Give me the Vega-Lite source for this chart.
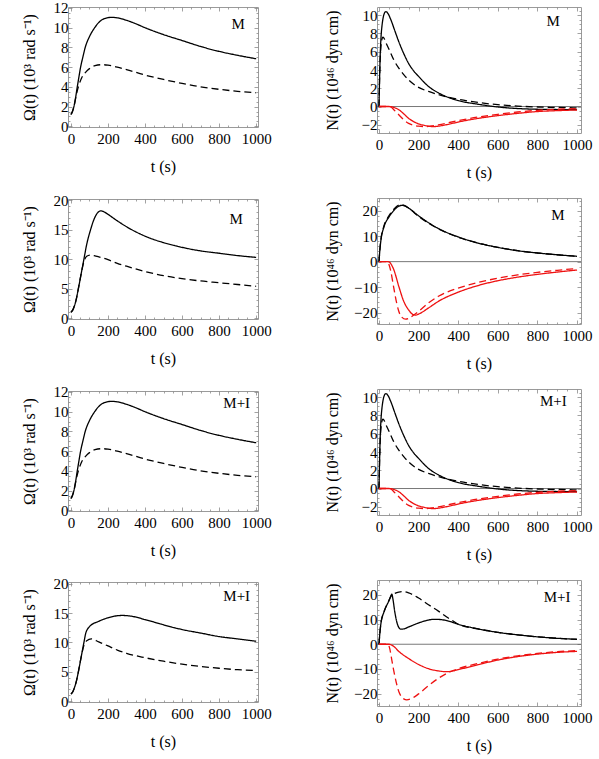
{
"$schema": "https://vega.github.io/schema/vega-lite/v6.json",
"background": "white",
"padding": {"left": 20, "top": 0, "right": 5, "bottom": 5},
"config": {
  "view": {"stroke": "#9a9a9a", "strokeWidth": 1},
  "axis": {"domain": false, "grid": false, "tickColor": "#8a8a8a", "tickWidth": 0.8, "labelFont": "Liberation Serif", "labelFontSize": 15, "labelColor": "#000", "titleFont": "Liberation Serif", "titleFontSize": 16, "titleFontWeight": "normal", "titleColor": "#000", "labelFlush": false, "labelOverlap": false},
  "text": {"font": "Liberation Serif"}
},
"datasets": {
  "L1": [
    {"t":0,"v":1.2,"c":"k","d":"s"},{"t":8,"v":1.5,"c":"k","d":"s"},{"t":16,"v":2.0,"c":"k","d":"s"},{"t":25,"v":2.9,"c":"k","d":"s"},{"t":34,"v":4.0,"c":"k","d":"s"},{"t":43,"v":5.0,"c":"k","d":"s"},{"t":52,"v":6.0,"c":"k","d":"s"},{"t":64,"v":7.0,"c":"k","d":"s"},{"t":77,"v":8.0,"c":"k","d":"s"},{"t":100,"v":9.1,"c":"k","d":"s"},{"t":128,"v":10.0,"c":"k","d":"s"},{"t":160,"v":10.7,"c":"k","d":"s"},{"t":190,"v":10.98,"c":"k","d":"s"},{"t":218,"v":11.05,"c":"k","d":"s"},{"t":250,"v":11.0,"c":"k","d":"s"},{"t":300,"v":10.75,"c":"k","d":"s"},{"t":350,"v":10.4,"c":"k","d":"s"},{"t":400,"v":10.0,"c":"k","d":"s"},{"t":500,"v":9.3,"c":"k","d":"s"},{"t":600,"v":8.7,"c":"k","d":"s"},{"t":700,"v":8.1,"c":"k","d":"s"},{"t":800,"v":7.6,"c":"k","d":"s"},{"t":900,"v":7.2,"c":"k","d":"s"},{"t":1000,"v":6.85,"c":"k","d":"s"},
    {"t":0,"v":1.2,"c":"k","d":"d"},{"t":8,"v":1.5,"c":"k","d":"d"},{"t":16,"v":2.0,"c":"k","d":"d"},{"t":25,"v":2.8,"c":"k","d":"d"},{"t":34,"v":3.6,"c":"k","d":"d"},{"t":45,"v":4.3,"c":"k","d":"d"},{"t":60,"v":5.0,"c":"k","d":"d"},{"t":80,"v":5.5,"c":"k","d":"d"},{"t":100,"v":5.85,"c":"k","d":"d"},{"t":130,"v":6.15,"c":"k","d":"d"},{"t":170,"v":6.25,"c":"k","d":"d"},{"t":200,"v":6.2,"c":"k","d":"d"},{"t":250,"v":6.0,"c":"k","d":"d"},{"t":300,"v":5.75,"c":"k","d":"d"},{"t":400,"v":5.2,"c":"k","d":"d"},{"t":500,"v":4.75,"c":"k","d":"d"},{"t":600,"v":4.35,"c":"k","d":"d"},{"t":700,"v":4.0,"c":"k","d":"d"},{"t":800,"v":3.75,"c":"k","d":"d"},{"t":900,"v":3.55,"c":"k","d":"d"},{"t":1000,"v":3.4,"c":"k","d":"d"}
  ],
  "L2": [
    {"t":0,"v":1.0,"c":"k","d":"s"},{"t":10,"v":1.4,"c":"k","d":"s"},{"t":20,"v":2.2,"c":"k","d":"s"},{"t":30,"v":3.4,"c":"k","d":"s"},{"t":40,"v":5.0,"c":"k","d":"s"},{"t":55,"v":7.5,"c":"k","d":"s"},{"t":70,"v":10.0,"c":"k","d":"s"},{"t":85,"v":12.5,"c":"k","d":"s"},{"t":106,"v":15.0,"c":"k","d":"s"},{"t":125,"v":16.8,"c":"k","d":"s"},{"t":145,"v":17.9,"c":"k","d":"s"},{"t":162,"v":18.2,"c":"k","d":"s"},{"t":180,"v":18.0,"c":"k","d":"s"},{"t":200,"v":17.6,"c":"k","d":"s"},{"t":250,"v":16.5,"c":"k","d":"s"},{"t":300,"v":15.5,"c":"k","d":"s"},{"t":400,"v":13.9,"c":"k","d":"s"},{"t":500,"v":12.8,"c":"k","d":"s"},{"t":600,"v":12.0,"c":"k","d":"s"},{"t":700,"v":11.4,"c":"k","d":"s"},{"t":800,"v":11.0,"c":"k","d":"s"},{"t":900,"v":10.6,"c":"k","d":"s"},{"t":1000,"v":10.3,"c":"k","d":"s"},
    {"t":0,"v":1.0,"c":"k","d":"d"},{"t":10,"v":1.4,"c":"k","d":"d"},{"t":20,"v":2.2,"c":"k","d":"d"},{"t":30,"v":3.4,"c":"k","d":"d"},{"t":40,"v":5.0,"c":"k","d":"d"},{"t":55,"v":7.5,"c":"k","d":"d"},{"t":70,"v":9.6,"c":"k","d":"d"},{"t":85,"v":10.5,"c":"k","d":"d"},{"t":105,"v":10.7,"c":"k","d":"d"},{"t":125,"v":10.6,"c":"k","d":"d"},{"t":150,"v":10.4,"c":"k","d":"d"},{"t":200,"v":9.9,"c":"k","d":"d"},{"t":250,"v":9.3,"c":"k","d":"d"},{"t":300,"v":8.8,"c":"k","d":"d"},{"t":400,"v":7.9,"c":"k","d":"d"},{"t":500,"v":7.2,"c":"k","d":"d"},{"t":600,"v":6.7,"c":"k","d":"d"},{"t":700,"v":6.3,"c":"k","d":"d"},{"t":800,"v":6.0,"c":"k","d":"d"},{"t":900,"v":5.7,"c":"k","d":"d"},{"t":1000,"v":5.4,"c":"k","d":"d"}
  ],
  "L4": [
    {"t":0,"v":1.2,"c":"k","d":"s"},{"t":10,"v":1.6,"c":"k","d":"s"},{"t":20,"v":2.4,"c":"k","d":"s"},{"t":30,"v":3.5,"c":"k","d":"s"},{"t":40,"v":5.0,"c":"k","d":"s"},{"t":55,"v":7.5,"c":"k","d":"s"},{"t":70,"v":10.0,"c":"k","d":"s"},{"t":80,"v":11.6,"c":"k","d":"s"},{"t":90,"v":12.3,"c":"k","d":"s"},{"t":100,"v":12.7,"c":"k","d":"s"},{"t":150,"v":13.6,"c":"k","d":"s"},{"t":200,"v":14.2,"c":"k","d":"s"},{"t":250,"v":14.55,"c":"k","d":"s"},{"t":280,"v":14.6,"c":"k","d":"s"},{"t":320,"v":14.5,"c":"k","d":"s"},{"t":400,"v":13.9,"c":"k","d":"s"},{"t":500,"v":13.0,"c":"k","d":"s"},{"t":600,"v":12.2,"c":"k","d":"s"},{"t":700,"v":11.6,"c":"k","d":"s"},{"t":800,"v":11.0,"c":"k","d":"s"},{"t":900,"v":10.6,"c":"k","d":"s"},{"t":1000,"v":10.2,"c":"k","d":"s"},
    {"t":0,"v":1.2,"c":"k","d":"d"},{"t":10,"v":1.6,"c":"k","d":"d"},{"t":20,"v":2.4,"c":"k","d":"d"},{"t":30,"v":3.5,"c":"k","d":"d"},{"t":40,"v":5.0,"c":"k","d":"d"},{"t":55,"v":7.5,"c":"k","d":"d"},{"t":70,"v":9.5,"c":"k","d":"d"},{"t":85,"v":10.3,"c":"k","d":"d"},{"t":110,"v":10.6,"c":"k","d":"d"},{"t":150,"v":10.1,"c":"k","d":"d"},{"t":200,"v":9.4,"c":"k","d":"d"},{"t":250,"v":8.7,"c":"k","d":"d"},{"t":300,"v":8.15,"c":"k","d":"d"},{"t":400,"v":7.4,"c":"k","d":"d"},{"t":500,"v":6.8,"c":"k","d":"d"},{"t":600,"v":6.3,"c":"k","d":"d"},{"t":700,"v":5.9,"c":"k","d":"d"},{"t":800,"v":5.6,"c":"k","d":"d"},{"t":900,"v":5.35,"c":"k","d":"d"},{"t":1000,"v":5.2,"c":"k","d":"d"}
  ],
  "R1": [
    {"t":0,"v":0,"c":"k","d":"s"},{"t":3,"v":3,"c":"k","d":"s"},{"t":6,"v":5.5,"c":"k","d":"s"},{"t":10,"v":7.5,"c":"k","d":"s"},{"t":15,"v":8.8,"c":"k","d":"s"},{"t":20,"v":9.6,"c":"k","d":"s"},{"t":27,"v":10.2,"c":"k","d":"s"},{"t":35,"v":10.4,"c":"k","d":"s"},{"t":45,"v":10.2,"c":"k","d":"s"},{"t":60,"v":9.5,"c":"k","d":"s"},{"t":80,"v":8.3,"c":"k","d":"s"},{"t":100,"v":7.1,"c":"k","d":"s"},{"t":125,"v":5.8,"c":"k","d":"s"},{"t":150,"v":4.7,"c":"k","d":"s"},{"t":175,"v":3.9,"c":"k","d":"s"},{"t":200,"v":3.3,"c":"k","d":"s"},{"t":250,"v":2.2,"c":"k","d":"s"},{"t":300,"v":1.5,"c":"k","d":"s"},{"t":350,"v":1.0,"c":"k","d":"s"},{"t":400,"v":0.65,"c":"k","d":"s"},{"t":500,"v":0.25,"c":"k","d":"s"},{"t":600,"v":-0.05,"c":"k","d":"s"},{"t":700,"v":-0.22,"c":"k","d":"s"},{"t":800,"v":-0.3,"c":"k","d":"s"},{"t":900,"v":-0.33,"c":"k","d":"s"},{"t":1000,"v":-0.35,"c":"k","d":"s"},
    {"t":0,"v":0,"c":"k","d":"d"},{"t":3,"v":3,"c":"k","d":"d"},{"t":6,"v":5.2,"c":"k","d":"d"},{"t":10,"v":6.6,"c":"k","d":"d"},{"t":15,"v":7.4,"c":"k","d":"d"},{"t":20,"v":7.6,"c":"k","d":"d"},{"t":25,"v":7.5,"c":"k","d":"d"},{"t":35,"v":7.0,"c":"k","d":"d"},{"t":50,"v":6.3,"c":"k","d":"d"},{"t":75,"v":5.1,"c":"k","d":"d"},{"t":100,"v":4.2,"c":"k","d":"d"},{"t":125,"v":3.5,"c":"k","d":"d"},{"t":150,"v":2.9,"c":"k","d":"d"},{"t":200,"v":2.1,"c":"k","d":"d"},{"t":250,"v":1.65,"c":"k","d":"d"},{"t":300,"v":1.3,"c":"k","d":"d"},{"t":400,"v":0.8,"c":"k","d":"d"},{"t":500,"v":0.45,"c":"k","d":"d"},{"t":600,"v":0.2,"c":"k","d":"d"},{"t":700,"v":0.05,"c":"k","d":"d"},{"t":800,"v":-0.05,"c":"k","d":"d"},{"t":900,"v":-0.1,"c":"k","d":"d"},{"t":1000,"v":-0.15,"c":"k","d":"d"},
    {"t":0,"v":0,"c":"r","d":"s"},{"t":50,"v":0,"c":"r","d":"s"},{"t":60,"v":-0.02,"c":"r","d":"s"},{"t":75,"v":-0.1,"c":"r","d":"s"},{"t":100,"v":-0.35,"c":"r","d":"s"},{"t":125,"v":-0.8,"c":"r","d":"s"},{"t":150,"v":-1.3,"c":"r","d":"s"},{"t":175,"v":-1.65,"c":"r","d":"s"},{"t":200,"v":-1.9,"c":"r","d":"s"},{"t":225,"v":-2.05,"c":"r","d":"s"},{"t":250,"v":-2.15,"c":"r","d":"s"},{"t":275,"v":-2.2,"c":"r","d":"s"},{"t":300,"v":-2.15,"c":"r","d":"s"},{"t":350,"v":-1.95,"c":"r","d":"s"},{"t":400,"v":-1.7,"c":"r","d":"s"},{"t":500,"v":-1.3,"c":"r","d":"s"},{"t":600,"v":-1.0,"c":"r","d":"s"},{"t":700,"v":-0.75,"c":"r","d":"s"},{"t":800,"v":-0.55,"c":"r","d":"s"},{"t":900,"v":-0.45,"c":"r","d":"s"},{"t":1000,"v":-0.38,"c":"r","d":"s"},
    {"t":0,"v":0,"c":"r","d":"d"},{"t":50,"v":0,"c":"r","d":"d"},{"t":60,"v":-0.05,"c":"r","d":"d"},{"t":75,"v":-0.35,"c":"r","d":"d"},{"t":100,"v":-0.9,"c":"r","d":"d"},{"t":125,"v":-1.45,"c":"r","d":"d"},{"t":150,"v":-1.85,"c":"r","d":"d"},{"t":175,"v":-2.05,"c":"r","d":"d"},{"t":200,"v":-2.15,"c":"r","d":"d"},{"t":230,"v":-2.2,"c":"r","d":"d"},{"t":260,"v":-2.15,"c":"r","d":"d"},{"t":300,"v":-2.0,"c":"r","d":"d"},{"t":400,"v":-1.55,"c":"r","d":"d"},{"t":500,"v":-1.15,"c":"r","d":"d"},{"t":600,"v":-0.85,"c":"r","d":"d"},{"t":700,"v":-0.6,"c":"r","d":"d"},{"t":800,"v":-0.42,"c":"r","d":"d"},{"t":900,"v":-0.3,"c":"r","d":"d"},{"t":1000,"v":-0.22,"c":"r","d":"d"}
  ],
  "R2": [
    {"t":0,"v":0,"c":"k","d":"s"},{"t":5,"v":5,"c":"k","d":"s"},{"t":10,"v":8.5,"c":"k","d":"s"},{"t":25,"v":13.6,"c":"k","d":"s"},{"t":50,"v":17.5,"c":"k","d":"s"},{"t":75,"v":20.1,"c":"k","d":"s"},{"t":100,"v":21.8,"c":"k","d":"s"},{"t":115,"v":22.1,"c":"k","d":"s"},{"t":130,"v":21.9,"c":"k","d":"s"},{"t":150,"v":21.0,"c":"k","d":"s"},{"t":200,"v":18.0,"c":"k","d":"s"},{"t":250,"v":15.3,"c":"k","d":"s"},{"t":300,"v":13.0,"c":"k","d":"s"},{"t":400,"v":9.7,"c":"k","d":"s"},{"t":500,"v":7.3,"c":"k","d":"s"},{"t":600,"v":5.6,"c":"k","d":"s"},{"t":700,"v":4.3,"c":"k","d":"s"},{"t":800,"v":3.4,"c":"k","d":"s"},{"t":900,"v":2.7,"c":"k","d":"s"},{"t":1000,"v":2.1,"c":"k","d":"s"},
    {"t":0,"v":0,"c":"k","d":"d"},{"t":5,"v":5.2,"c":"k","d":"d"},{"t":10,"v":8.8,"c":"k","d":"d"},{"t":25,"v":14.0,"c":"k","d":"d"},{"t":50,"v":18.0,"c":"k","d":"d"},{"t":75,"v":20.6,"c":"k","d":"d"},{"t":100,"v":22.2,"c":"k","d":"d"},{"t":110,"v":22.4,"c":"k","d":"d"},{"t":130,"v":22.0,"c":"k","d":"d"},{"t":150,"v":21.0,"c":"k","d":"d"},{"t":200,"v":17.8,"c":"k","d":"d"},{"t":250,"v":15.1,"c":"k","d":"d"},{"t":300,"v":12.9,"c":"k","d":"d"},{"t":400,"v":9.6,"c":"k","d":"d"},{"t":500,"v":7.3,"c":"k","d":"d"},{"t":600,"v":5.6,"c":"k","d":"d"},{"t":700,"v":4.3,"c":"k","d":"d"},{"t":800,"v":3.4,"c":"k","d":"d"},{"t":900,"v":2.7,"c":"k","d":"d"},{"t":1000,"v":2.1,"c":"k","d":"d"},
    {"t":0,"v":0,"c":"r","d":"s"},{"t":45,"v":0,"c":"r","d":"s"},{"t":55,"v":-0.3,"c":"r","d":"s"},{"t":65,"v":-1.5,"c":"r","d":"s"},{"t":75,"v":-3.2,"c":"r","d":"s"},{"t":100,"v":-9.7,"c":"r","d":"s"},{"t":125,"v":-15.6,"c":"r","d":"s"},{"t":150,"v":-19.0,"c":"r","d":"s"},{"t":170,"v":-20.7,"c":"r","d":"s"},{"t":185,"v":-21.0,"c":"r","d":"s"},{"t":200,"v":-20.6,"c":"r","d":"s"},{"t":250,"v":-18.2,"c":"r","d":"s"},{"t":300,"v":-15.6,"c":"r","d":"s"},{"t":400,"v":-12.0,"c":"r","d":"s"},{"t":500,"v":-9.4,"c":"r","d":"s"},{"t":600,"v":-7.5,"c":"r","d":"s"},{"t":700,"v":-6.1,"c":"r","d":"s"},{"t":800,"v":-5.0,"c":"r","d":"s"},{"t":900,"v":-4.1,"c":"r","d":"s"},{"t":1000,"v":-3.3,"c":"r","d":"s"},
    {"t":0,"v":0,"c":"r","d":"d"},{"t":40,"v":0,"c":"r","d":"d"},{"t":50,"v":-1.0,"c":"r","d":"d"},{"t":60,"v":-3.9,"c":"r","d":"d"},{"t":75,"v":-10.4,"c":"r","d":"d"},{"t":90,"v":-16.5,"c":"r","d":"d"},{"t":100,"v":-19.5,"c":"r","d":"d"},{"t":115,"v":-21.8,"c":"r","d":"d"},{"t":135,"v":-22.6,"c":"r","d":"d"},{"t":150,"v":-22.3,"c":"r","d":"d"},{"t":175,"v":-21.0,"c":"r","d":"d"},{"t":200,"v":-19.5,"c":"r","d":"d"},{"t":250,"v":-16.2,"c":"r","d":"d"},{"t":300,"v":-13.6,"c":"r","d":"d"},{"t":400,"v":-10.4,"c":"r","d":"d"},{"t":500,"v":-8.2,"c":"r","d":"d"},{"t":600,"v":-6.5,"c":"r","d":"d"},{"t":700,"v":-5.2,"c":"r","d":"d"},{"t":800,"v":-4.2,"c":"r","d":"d"},{"t":900,"v":-3.4,"c":"r","d":"d"},{"t":1000,"v":-2.7,"c":"r","d":"d"}
  ],
  "R4": [
    {"t":0,"v":0,"c":"k","d":"s"},{"t":5,"v":5,"c":"k","d":"s"},{"t":10,"v":8.5,"c":"k","d":"s"},{"t":25,"v":13,"c":"k","d":"s"},{"t":50,"v":17.6,"c":"k","d":"s"},{"t":60,"v":19.5,"c":"k","d":"s"},{"t":65,"v":20.3,"c":"k","d":"s"},{"t":70,"v":18.5,"c":"k","d":"s"},{"t":80,"v":13.0,"c":"k","d":"s"},{"t":90,"v":9.0,"c":"k","d":"s"},{"t":100,"v":6.8,"c":"k","d":"s"},{"t":110,"v":6.1,"c":"k","d":"s"},{"t":125,"v":6.2,"c":"k","d":"s"},{"t":150,"v":7.0,"c":"k","d":"s"},{"t":200,"v":8.6,"c":"k","d":"s"},{"t":250,"v":9.8,"c":"k","d":"s"},{"t":280,"v":10.1,"c":"k","d":"s"},{"t":320,"v":9.9,"c":"k","d":"s"},{"t":350,"v":9.4,"c":"k","d":"s"},{"t":400,"v":8.1,"c":"k","d":"s"},{"t":500,"v":6.2,"c":"k","d":"s"},{"t":600,"v":4.8,"c":"k","d":"s"},{"t":700,"v":3.8,"c":"k","d":"s"},{"t":800,"v":3.0,"c":"k","d":"s"},{"t":900,"v":2.4,"c":"k","d":"s"},{"t":1000,"v":2.0,"c":"k","d":"s"},
    {"t":0,"v":0,"c":"k","d":"d"},{"t":5,"v":5,"c":"k","d":"d"},{"t":10,"v":8.5,"c":"k","d":"d"},{"t":25,"v":13,"c":"k","d":"d"},{"t":50,"v":17.6,"c":"k","d":"d"},{"t":65,"v":20.0,"c":"k","d":"d"},{"t":80,"v":20.6,"c":"k","d":"d"},{"t":100,"v":21.1,"c":"k","d":"d"},{"t":125,"v":21.3,"c":"k","d":"d"},{"t":150,"v":20.8,"c":"k","d":"d"},{"t":200,"v":18.7,"c":"k","d":"d"},{"t":250,"v":16.0,"c":"k","d":"d"},{"t":300,"v":13.4,"c":"k","d":"d"},{"t":350,"v":10.6,"c":"k","d":"d"},{"t":370,"v":9.6,"c":"k","d":"d"},{"t":400,"v":8.1,"c":"k","d":"d"},{"t":500,"v":6.2,"c":"k","d":"d"},{"t":600,"v":4.8,"c":"k","d":"d"},{"t":700,"v":3.8,"c":"k","d":"d"},{"t":800,"v":3.0,"c":"k","d":"d"},{"t":900,"v":2.4,"c":"k","d":"d"},{"t":1000,"v":2.0,"c":"k","d":"d"},
    {"t":0,"v":0,"c":"r","d":"s"},{"t":50,"v":0,"c":"r","d":"s"},{"t":60,"v":-0.2,"c":"r","d":"s"},{"t":75,"v":-0.9,"c":"r","d":"s"},{"t":100,"v":-2.9,"c":"r","d":"s"},{"t":150,"v":-5.8,"c":"r","d":"s"},{"t":200,"v":-8.2,"c":"r","d":"s"},{"t":250,"v":-9.9,"c":"r","d":"s"},{"t":300,"v":-10.8,"c":"r","d":"s"},{"t":340,"v":-11.1,"c":"r","d":"s"},{"t":370,"v":-10.9,"c":"r","d":"s"},{"t":400,"v":-10.3,"c":"r","d":"s"},{"t":500,"v":-8.3,"c":"r","d":"s"},{"t":600,"v":-6.4,"c":"r","d":"s"},{"t":700,"v":-5.0,"c":"r","d":"s"},{"t":800,"v":-4.0,"c":"r","d":"s"},{"t":900,"v":-3.3,"c":"r","d":"s"},{"t":1000,"v":-2.9,"c":"r","d":"s"},
    {"t":0,"v":0,"c":"r","d":"d"},{"t":45,"v":0,"c":"r","d":"d"},{"t":55,"v":-2.0,"c":"r","d":"d"},{"t":60,"v":-4.2,"c":"r","d":"d"},{"t":75,"v":-10.9,"c":"r","d":"d"},{"t":100,"v":-19.1,"c":"r","d":"d"},{"t":125,"v":-22.1,"c":"r","d":"d"},{"t":140,"v":-22.5,"c":"r","d":"d"},{"t":175,"v":-21.5,"c":"r","d":"d"},{"t":200,"v":-20.1,"c":"r","d":"d"},{"t":250,"v":-16.8,"c":"r","d":"d"},{"t":300,"v":-13.8,"c":"r","d":"d"},{"t":350,"v":-11.5,"c":"r","d":"d"},{"t":400,"v":-9.9,"c":"r","d":"d"},{"t":500,"v":-7.8,"c":"r","d":"d"},{"t":600,"v":-6.0,"c":"r","d":"d"},{"t":700,"v":-4.7,"c":"r","d":"d"},{"t":800,"v":-3.7,"c":"r","d":"d"},{"t":900,"v":-3.0,"c":"r","d":"d"},{"t":1000,"v":-2.6,"c":"r","d":"d"}
  ]
},
"spacing": 51,
"hconcat": [
 {"spacing": 17, "vconcat": [
  {"width": 190, "height": 120, "data": {"name": "L1"},
   "layer": [
    {"mark": {"type": "line", "interpolate": "monotone", "strokeWidth": 1.3},
     "encoding": {
      "x": {"field": "t", "type": "quantitative", "scale": {"domain": [-16, 1010], "nice": false, "zero": false}, "axis": {"orient": "bottom", "values": [0,200,400,600,800,1000], "format": "d", "tickSize": -4, "labelPadding": 8, "title": "t (s)", "titlePadding": 12}},
      "y": {"field": "v", "type": "quantitative", "scale": {"domain": [-0.07, 12.1], "nice": false, "zero": false}, "axis": {"orient": "left", "values": [0,2,4,6,8,10,12], "tickSize": -4, "labelPadding": 4, "title": "Ω(t) (10³ rad s⁻¹)", "titlePadding": 13, "minExtent": 18, "maxExtent": 18}},
      "color": {"field": "c", "type": "nominal", "scale": {"domain": ["k","r"], "range": ["#000000","#ee1111"]}, "legend": null},
      "strokeDash": {"field": "d", "type": "nominal", "scale": {"domain": ["s","d"], "range": [[1,0],[7,4]]}, "legend": null}}},
    {"mark": {"type": "line", "strokeOpacity": 0}, "encoding": {"x": {"field": "t", "type": "quantitative", "axis": {"orient": "bottom", "values": [50,100,150,250,300,350,450,500,550,650,700,750,850,900,950], "tickSize": -2, "labels": false, "title": null}}, "y": {"field": "v", "type": "quantitative", "axis": {"orient": "left", "values": [0.5,1,1.5,2.5,3,3.5,4.5,5,5.5,6.5,7,7.5,8.5,9,9.5,10.5,11,11.5], "tickSize": -2, "labels": false, "title": null}}}},
    {"mark": {"type": "line", "strokeOpacity": 0}, "encoding": {"x": {"field": "t", "type": "quantitative", "axis": {"orient": "top", "values": [0,200,400,600,800,1000], "tickSize": -4, "labels": false, "title": null}}, "y": {"field": "v", "type": "quantitative", "axis": {"orient": "right", "values": [0,2,4,6,8,10,12], "tickSize": -4, "labels": false, "title": null}}}},
    {"mark": {"type": "line", "strokeOpacity": 0}, "encoding": {"x": {"field": "t", "type": "quantitative", "axis": {"orient": "top", "values": [50,100,150,250,300,350,450,500,550,650,700,750,850,900,950], "tickSize": -2, "labels": false, "title": null}}, "y": {"field": "v", "type": "quantitative", "axis": {"orient": "right", "values": [0.5,1,1.5,2.5,3,3.5,4.5,5,5.5,6.5,7,7.5,8.5,9,9.5,10.5,11,11.5], "tickSize": -2, "labels": false, "title": null}}}},
    {"data": {"values": [{"lab": "M"}]}, "mark": {"type": "text", "fontSize": 15, "baseline": "middle", "align": "center"}, "encoding": {"x": {"datum": 903, "type": "quantitative", "axis": null}, "y": {"datum": 10.4, "type": "quantitative", "axis": null}, "text": {"field": "lab"}}}
   ],
   "resolve": {"axis": {"x": "independent", "y": "independent"}}},
  {"width": 190, "height": 120, "data": {"name": "L2"},
   "layer": [
    {"mark": {"type": "line", "interpolate": "monotone", "strokeWidth": 1.3},
     "encoding": {
      "x": {"field": "t", "type": "quantitative", "scale": {"domain": [-16, 1010], "nice": false, "zero": false}, "axis": {"orient": "bottom", "values": [0,200,400,600,800,1000], "format": "d", "tickSize": -4, "labelPadding": 8, "title": "t (s)", "titlePadding": 12}},
      "y": {"field": "v", "type": "quantitative", "scale": {"domain": [-0.15, 20.2], "nice": false, "zero": false}, "axis": {"orient": "left", "values": [0,5,10,15,20], "tickSize": -4, "labelPadding": 4, "title": "Ω(t) (10³ rad s⁻¹)", "titlePadding": 13, "minExtent": 18, "maxExtent": 18}},
      "color": {"field": "c", "type": "nominal", "scale": {"domain": ["k","r"], "range": ["#000000","#ee1111"]}, "legend": null},
      "strokeDash": {"field": "d", "type": "nominal", "scale": {"domain": ["s","d"], "range": [[1,0],[7,4]]}, "legend": null}}},
    {"mark": {"type": "line", "strokeOpacity": 0}, "encoding": {"x": {"field": "t", "type": "quantitative", "axis": {"orient": "bottom", "values": [50,100,150,250,300,350,450,500,550,650,700,750,850,900,950], "tickSize": -2, "labels": false, "title": null}}, "y": {"field": "v", "type": "quantitative", "axis": {"orient": "left", "values": [1,2,3,4,6,7,8,9,11,12,13,14,16,17,18,19], "tickSize": -2, "labels": false, "title": null}}}},
    {"mark": {"type": "line", "strokeOpacity": 0}, "encoding": {"x": {"field": "t", "type": "quantitative", "axis": {"orient": "top", "values": [0,200,400,600,800,1000], "tickSize": -4, "labels": false, "title": null}}, "y": {"field": "v", "type": "quantitative", "axis": {"orient": "right", "values": [0,5,10,15,20], "tickSize": -4, "labels": false, "title": null}}}},
    {"mark": {"type": "line", "strokeOpacity": 0}, "encoding": {"x": {"field": "t", "type": "quantitative", "axis": {"orient": "top", "values": [50,100,150,250,300,350,450,500,550,650,700,750,850,900,950], "tickSize": -2, "labels": false, "title": null}}, "y": {"field": "v", "type": "quantitative", "axis": {"orient": "right", "values": [1,2,3,4,6,7,8,9,11,12,13,14,16,17,18,19], "tickSize": -2, "labels": false, "title": null}}}},
    {"data": {"values": [{"lab": "M"}]}, "mark": {"type": "text", "fontSize": 15, "baseline": "middle", "align": "center"}, "encoding": {"x": {"datum": 892, "type": "quantitative", "axis": null}, "y": {"datum": 16.8, "type": "quantitative", "axis": null}, "text": {"field": "lab"}}}
   ],
   "resolve": {"axis": {"x": "independent", "y": "independent"}}},
  {"width": 190, "height": 120, "data": {"name": "L1"},
   "layer": [
    {"mark": {"type": "line", "interpolate": "monotone", "strokeWidth": 1.3},
     "encoding": {
      "x": {"field": "t", "type": "quantitative", "scale": {"domain": [-16, 1010], "nice": false, "zero": false}, "axis": {"orient": "bottom", "values": [0,200,400,600,800,1000], "format": "d", "tickSize": -4, "labelPadding": 8, "title": "t (s)", "titlePadding": 12}},
      "y": {"field": "v", "type": "quantitative", "scale": {"domain": [-0.07, 12.1], "nice": false, "zero": false}, "axis": {"orient": "left", "values": [0,2,4,6,8,10,12], "tickSize": -4, "labelPadding": 4, "title": "Ω(t) (10³ rad s⁻¹)", "titlePadding": 13, "minExtent": 18, "maxExtent": 18}},
      "color": {"field": "c", "type": "nominal", "scale": {"domain": ["k","r"], "range": ["#000000","#ee1111"]}, "legend": null},
      "strokeDash": {"field": "d", "type": "nominal", "scale": {"domain": ["s","d"], "range": [[1,0],[7,4]]}, "legend": null}}},
    {"mark": {"type": "line", "strokeOpacity": 0}, "encoding": {"x": {"field": "t", "type": "quantitative", "axis": {"orient": "bottom", "values": [50,100,150,250,300,350,450,500,550,650,700,750,850,900,950], "tickSize": -2, "labels": false, "title": null}}, "y": {"field": "v", "type": "quantitative", "axis": {"orient": "left", "values": [0.5,1,1.5,2.5,3,3.5,4.5,5,5.5,6.5,7,7.5,8.5,9,9.5,10.5,11,11.5], "tickSize": -2, "labels": false, "title": null}}}},
    {"mark": {"type": "line", "strokeOpacity": 0}, "encoding": {"x": {"field": "t", "type": "quantitative", "axis": {"orient": "top", "values": [0,200,400,600,800,1000], "tickSize": -4, "labels": false, "title": null}}, "y": {"field": "v", "type": "quantitative", "axis": {"orient": "right", "values": [0,2,4,6,8,10,12], "tickSize": -4, "labels": false, "title": null}}}},
    {"mark": {"type": "line", "strokeOpacity": 0}, "encoding": {"x": {"field": "t", "type": "quantitative", "axis": {"orient": "top", "values": [50,100,150,250,300,350,450,500,550,650,700,750,850,900,950], "tickSize": -2, "labels": false, "title": null}}, "y": {"field": "v", "type": "quantitative", "axis": {"orient": "right", "values": [0.5,1,1.5,2.5,3,3.5,4.5,5,5.5,6.5,7,7.5,8.5,9,9.5,10.5,11,11.5], "tickSize": -2, "labels": false, "title": null}}}},
    {"data": {"values": [{"lab": "M+I"}]}, "mark": {"type": "text", "fontSize": 15, "baseline": "middle", "align": "center"}, "encoding": {"x": {"datum": 895, "type": "quantitative", "axis": null}, "y": {"datum": 10.9, "type": "quantitative", "axis": null}, "text": {"field": "lab"}}}
   ],
   "resolve": {"axis": {"x": "independent", "y": "independent"}}},
  {"width": 190, "height": 120, "data": {"name": "L4"},
   "layer": [
    {"mark": {"type": "line", "interpolate": "monotone", "strokeWidth": 1.3},
     "encoding": {
      "x": {"field": "t", "type": "quantitative", "scale": {"domain": [-16, 1010], "nice": false, "zero": false}, "axis": {"orient": "bottom", "values": [0,200,400,600,800,1000], "format": "d", "tickSize": -4, "labelPadding": 8, "title": "t (s)", "titlePadding": 12}},
      "y": {"field": "v", "type": "quantitative", "scale": {"domain": [-0.15, 20.3], "nice": false, "zero": false}, "axis": {"orient": "left", "values": [0,5,10,15,20], "tickSize": -4, "labelPadding": 4, "title": "Ω(t) (10³ rad s⁻¹)", "titlePadding": 13, "minExtent": 18, "maxExtent": 18}},
      "color": {"field": "c", "type": "nominal", "scale": {"domain": ["k","r"], "range": ["#000000","#ee1111"]}, "legend": null},
      "strokeDash": {"field": "d", "type": "nominal", "scale": {"domain": ["s","d"], "range": [[1,0],[7,4]]}, "legend": null}}},
    {"mark": {"type": "line", "strokeOpacity": 0}, "encoding": {"x": {"field": "t", "type": "quantitative", "axis": {"orient": "bottom", "values": [50,100,150,250,300,350,450,500,550,650,700,750,850,900,950], "tickSize": -2, "labels": false, "title": null}}, "y": {"field": "v", "type": "quantitative", "axis": {"orient": "left", "values": [1,2,3,4,6,7,8,9,11,12,13,14,16,17,18,19], "tickSize": -2, "labels": false, "title": null}}}},
    {"mark": {"type": "line", "strokeOpacity": 0}, "encoding": {"x": {"field": "t", "type": "quantitative", "axis": {"orient": "top", "values": [0,200,400,600,800,1000], "tickSize": -4, "labels": false, "title": null}}, "y": {"field": "v", "type": "quantitative", "axis": {"orient": "right", "values": [0,5,10,15,20], "tickSize": -4, "labels": false, "title": null}}}},
    {"mark": {"type": "line", "strokeOpacity": 0}, "encoding": {"x": {"field": "t", "type": "quantitative", "axis": {"orient": "top", "values": [50,100,150,250,300,350,450,500,550,650,700,750,850,900,950], "tickSize": -2, "labels": false, "title": null}}, "y": {"field": "v", "type": "quantitative", "axis": {"orient": "right", "values": [1,2,3,4,6,7,8,9,11,12,13,14,16,17,18,19], "tickSize": -2, "labels": false, "title": null}}}},
    {"data": {"values": [{"lab": "M+I"}]}, "mark": {"type": "text", "fontSize": 15, "baseline": "middle", "align": "center"}, "encoding": {"x": {"datum": 895, "type": "quantitative", "axis": null}, "y": {"datum": 17.9, "type": "quantitative", "axis": null}, "text": {"field": "lab"}}}
   ],
   "resolve": {"axis": {"x": "independent", "y": "independent"}}}
 ]},
 {"spacing": 16, "vconcat": [
  {"width": 204, "height": 126, "data": {"name": "R1"},
   "layer": [
    {"data": {"values": [{"z": 0}]}, "mark": {"type": "rule", "color": "#555555", "strokeWidth": 0.8}, "encoding": {"y": {"datum": 0, "type": "quantitative", "axis": null}}},
    {"mark": {"type": "line", "interpolate": "monotone", "strokeWidth": 1.3},
     "encoding": {
      "x": {"field": "t", "type": "quantitative", "scale": {"domain": [-10, 1020], "nice": false, "zero": false}, "axis": {"orient": "bottom", "values": [0,200,400,600,800,1000], "format": "d", "tickSize": -4, "labelPadding": 8, "title": "t (s)", "titlePadding": 12}},
      "y": {"field": "v", "type": "quantitative", "scale": {"domain": [-2.9, 10.9], "nice": false, "zero": false}, "axis": {"orient": "left", "values": [-2,0,2,4,6,8,10], "tickSize": -4, "labelPadding": 4, "title": "N(t) (10⁴⁶ dyn cm)", "titlePadding": 13, "minExtent": 24, "maxExtent": 24}},
      "color": {"field": "c", "type": "nominal", "scale": {"domain": ["k","r"], "range": ["#000000","#ee1111"]}, "legend": null},
      "strokeDash": {"field": "d", "type": "nominal", "scale": {"domain": ["s","d"], "range": [[1,0],[7,4]]}, "legend": null}}},
    {"mark": {"type": "line", "strokeOpacity": 0}, "encoding": {"x": {"field": "t", "type": "quantitative", "axis": {"orient": "bottom", "values": [50,100,150,250,300,350,450,500,550,650,700,750,850,900,950], "tickSize": -2, "labels": false, "title": null}}, "y": {"field": "v", "type": "quantitative", "axis": {"orient": "left", "values": [-2.5,-1.5,-1,-0.5,0.5,1,1.5,2.5,3,3.5,4.5,5,5.5,6.5,7,7.5,8.5,9,9.5,10.5], "tickSize": -2, "labels": false, "title": null}}}},
    {"mark": {"type": "line", "strokeOpacity": 0}, "encoding": {"x": {"field": "t", "type": "quantitative", "axis": {"orient": "top", "values": [0,200,400,600,800,1000], "tickSize": -4, "labels": false, "title": null}}, "y": {"field": "v", "type": "quantitative", "axis": {"orient": "right", "values": [-2,0,2,4,6,8,10], "tickSize": -4, "labels": false, "title": null}}}},
    {"mark": {"type": "line", "strokeOpacity": 0}, "encoding": {"x": {"field": "t", "type": "quantitative", "axis": {"orient": "top", "values": [50,100,150,250,300,350,450,500,550,650,700,750,850,900,950], "tickSize": -2, "labels": false, "title": null}}, "y": {"field": "v", "type": "quantitative", "axis": {"orient": "right", "values": [-2.5,-1.5,-1,-0.5,0.5,1,1.5,2.5,3,3.5,4.5,5,5.5,6.5,7,7.5,8.5,9,9.5,10.5], "tickSize": -2, "labels": false, "title": null}}}},
    {"data": {"values": [{"lab": "M"}]}, "mark": {"type": "text", "fontSize": 15, "baseline": "middle", "align": "center"}, "encoding": {"x": {"datum": 880, "type": "quantitative", "axis": null}, "y": {"datum": 9.4, "type": "quantitative", "axis": null}, "text": {"field": "lab"}}}
   ],
   "resolve": {"axis": {"x": "independent", "y": "independent"}}},
  {"width": 204, "height": 126, "data": {"name": "R2"},
   "layer": [
    {"data": {"values": [{"z": 0}]}, "mark": {"type": "rule", "color": "#555555", "strokeWidth": 0.8}, "encoding": {"y": {"datum": 0, "type": "quantitative", "axis": null}}},
    {"mark": {"type": "line", "interpolate": "monotone", "strokeWidth": 1.3},
     "encoding": {
      "x": {"field": "t", "type": "quantitative", "scale": {"domain": [-10, 1020], "nice": false, "zero": false}, "axis": {"orient": "bottom", "values": [0,200,400,600,800,1000], "format": "d", "tickSize": -4, "labelPadding": 8, "title": "t (s)", "titlePadding": 12}},
      "y": {"field": "v", "type": "quantitative", "scale": {"domain": [-24.5, 25], "nice": false, "zero": false}, "axis": {"orient": "left", "values": [-20,-10,0,10,20], "tickSize": -4, "labelPadding": 4, "title": "N(t) (10⁴⁶ dyn cm)", "titlePadding": 13, "minExtent": 24, "maxExtent": 24}},
      "color": {"field": "c", "type": "nominal", "scale": {"domain": ["k","r"], "range": ["#000000","#ee1111"]}, "legend": null},
      "strokeDash": {"field": "d", "type": "nominal", "scale": {"domain": ["s","d"], "range": [[1,0],[7,4]]}, "legend": null}}},
    {"mark": {"type": "line", "strokeOpacity": 0}, "encoding": {"x": {"field": "t", "type": "quantitative", "axis": {"orient": "bottom", "values": [50,100,150,250,300,350,450,500,550,650,700,750,850,900,950], "tickSize": -2, "labels": false, "title": null}}, "y": {"field": "v", "type": "quantitative", "axis": {"orient": "left", "values": [-24,-22,-18,-16,-14,-12,-8,-6,-4,-2,2,4,6,8,12,14,16,18,22,24], "tickSize": -2, "labels": false, "title": null}}}},
    {"mark": {"type": "line", "strokeOpacity": 0}, "encoding": {"x": {"field": "t", "type": "quantitative", "axis": {"orient": "top", "values": [0,200,400,600,800,1000], "tickSize": -4, "labels": false, "title": null}}, "y": {"field": "v", "type": "quantitative", "axis": {"orient": "right", "values": [-20,-10,0,10,20], "tickSize": -4, "labels": false, "title": null}}}},
    {"mark": {"type": "line", "strokeOpacity": 0}, "encoding": {"x": {"field": "t", "type": "quantitative", "axis": {"orient": "top", "values": [50,100,150,250,300,350,450,500,550,650,700,750,850,900,950], "tickSize": -2, "labels": false, "title": null}}, "y": {"field": "v", "type": "quantitative", "axis": {"orient": "right", "values": [-24,-22,-18,-16,-14,-12,-8,-6,-4,-2,2,4,6,8,12,14,16,18,22,24], "tickSize": -2, "labels": false, "title": null}}}},
    {"data": {"values": [{"lab": "M"}]}, "mark": {"type": "text", "fontSize": 15, "baseline": "middle", "align": "center"}, "encoding": {"x": {"datum": 904, "type": "quantitative", "axis": null}, "y": {"datum": 18.4, "type": "quantitative", "axis": null}, "text": {"field": "lab"}}}
   ],
   "resolve": {"axis": {"x": "independent", "y": "independent"}}},
  {"width": 204, "height": 126, "data": {"name": "R1"},
   "layer": [
    {"data": {"values": [{"z": 0}]}, "mark": {"type": "rule", "color": "#555555", "strokeWidth": 0.8}, "encoding": {"y": {"datum": 0, "type": "quantitative", "axis": null}}},
    {"mark": {"type": "line", "interpolate": "monotone", "strokeWidth": 1.3},
     "encoding": {
      "x": {"field": "t", "type": "quantitative", "scale": {"domain": [-10, 1020], "nice": false, "zero": false}, "axis": {"orient": "bottom", "values": [0,200,400,600,800,1000], "format": "d", "tickSize": -4, "labelPadding": 8, "title": "t (s)", "titlePadding": 12}},
      "y": {"field": "v", "type": "quantitative", "scale": {"domain": [-2.9, 10.9], "nice": false, "zero": false}, "axis": {"orient": "left", "values": [-2,0,2,4,6,8,10], "tickSize": -4, "labelPadding": 4, "title": "N(t) (10⁴⁶ dyn cm)", "titlePadding": 13, "minExtent": 24, "maxExtent": 24}},
      "color": {"field": "c", "type": "nominal", "scale": {"domain": ["k","r"], "range": ["#000000","#ee1111"]}, "legend": null},
      "strokeDash": {"field": "d", "type": "nominal", "scale": {"domain": ["s","d"], "range": [[1,0],[7,4]]}, "legend": null}}},
    {"mark": {"type": "line", "strokeOpacity": 0}, "encoding": {"x": {"field": "t", "type": "quantitative", "axis": {"orient": "bottom", "values": [50,100,150,250,300,350,450,500,550,650,700,750,850,900,950], "tickSize": -2, "labels": false, "title": null}}, "y": {"field": "v", "type": "quantitative", "axis": {"orient": "left", "values": [-2.5,-1.5,-1,-0.5,0.5,1,1.5,2.5,3,3.5,4.5,5,5.5,6.5,7,7.5,8.5,9,9.5,10.5], "tickSize": -2, "labels": false, "title": null}}}},
    {"mark": {"type": "line", "strokeOpacity": 0}, "encoding": {"x": {"field": "t", "type": "quantitative", "axis": {"orient": "top", "values": [0,200,400,600,800,1000], "tickSize": -4, "labels": false, "title": null}}, "y": {"field": "v", "type": "quantitative", "axis": {"orient": "right", "values": [-2,0,2,4,6,8,10], "tickSize": -4, "labels": false, "title": null}}}},
    {"mark": {"type": "line", "strokeOpacity": 0}, "encoding": {"x": {"field": "t", "type": "quantitative", "axis": {"orient": "top", "values": [50,100,150,250,300,350,450,500,550,650,700,750,850,900,950], "tickSize": -2, "labels": false, "title": null}}, "y": {"field": "v", "type": "quantitative", "axis": {"orient": "right", "values": [-2.5,-1.5,-1,-0.5,0.5,1,1.5,2.5,3,3.5,4.5,5,5.5,6.5,7,7.5,8.5,9,9.5,10.5], "tickSize": -2, "labels": false, "title": null}}}},
    {"data": {"values": [{"lab": "M+I"}]}, "mark": {"type": "text", "fontSize": 15, "baseline": "middle", "align": "center"}, "encoding": {"x": {"datum": 880, "type": "quantitative", "axis": null}, "y": {"datum": 9.6, "type": "quantitative", "axis": null}, "text": {"field": "lab"}}}
   ],
   "resolve": {"axis": {"x": "independent", "y": "independent"}}},
  {"width": 204, "height": 126, "data": {"name": "R4"},
   "layer": [
    {"data": {"values": [{"z": 0}]}, "mark": {"type": "rule", "color": "#555555", "strokeWidth": 0.8}, "encoding": {"y": {"datum": 0, "type": "quantitative", "axis": null}}},
    {"mark": {"type": "line", "interpolate": "monotone", "strokeWidth": 1.3},
     "encoding": {
      "x": {"field": "t", "type": "quantitative", "scale": {"domain": [-10, 1020], "nice": false, "zero": false}, "axis": {"orient": "bottom", "values": [0,200,400,600,800,1000], "format": "d", "tickSize": -4, "labelPadding": 8, "title": "t (s)", "titlePadding": 12}},
      "y": {"field": "v", "type": "quantitative", "scale": {"domain": [-25, 26], "nice": false, "zero": false}, "axis": {"orient": "left", "values": [-20,-10,0,10,20], "tickSize": -4, "labelPadding": 4, "title": "N(t) (10⁴⁶ dyn cm)", "titlePadding": 13, "minExtent": 24, "maxExtent": 24}},
      "color": {"field": "c", "type": "nominal", "scale": {"domain": ["k","r"], "range": ["#000000","#ee1111"]}, "legend": null},
      "strokeDash": {"field": "d", "type": "nominal", "scale": {"domain": ["s","d"], "range": [[1,0],[7,4]]}, "legend": null}}},
    {"mark": {"type": "line", "strokeOpacity": 0}, "encoding": {"x": {"field": "t", "type": "quantitative", "axis": {"orient": "bottom", "values": [50,100,150,250,300,350,450,500,550,650,700,750,850,900,950], "tickSize": -2, "labels": false, "title": null}}, "y": {"field": "v", "type": "quantitative", "axis": {"orient": "left", "values": [-24,-22,-18,-16,-14,-12,-8,-6,-4,-2,2,4,6,8,12,14,16,18,22,24], "tickSize": -2, "labels": false, "title": null}}}},
    {"mark": {"type": "line", "strokeOpacity": 0}, "encoding": {"x": {"field": "t", "type": "quantitative", "axis": {"orient": "top", "values": [0,200,400,600,800,1000], "tickSize": -4, "labels": false, "title": null}}, "y": {"field": "v", "type": "quantitative", "axis": {"orient": "right", "values": [-20,-10,0,10,20], "tickSize": -4, "labels": false, "title": null}}}},
    {"mark": {"type": "line", "strokeOpacity": 0}, "encoding": {"x": {"field": "t", "type": "quantitative", "axis": {"orient": "top", "values": [50,100,150,250,300,350,450,500,550,650,700,750,850,900,950], "tickSize": -2, "labels": false, "title": null}}, "y": {"field": "v", "type": "quantitative", "axis": {"orient": "right", "values": [-24,-22,-18,-16,-14,-12,-8,-6,-4,-2,2,4,6,8,12,14,16,18,22,24], "tickSize": -2, "labels": false, "title": null}}}},
    {"data": {"values": [{"lab": "M+I"}]}, "mark": {"type": "text", "fontSize": 15, "baseline": "middle", "align": "center"}, "encoding": {"x": {"datum": 899, "type": "quantitative", "axis": null}, "y": {"datum": 19.2, "type": "quantitative", "axis": null}, "text": {"field": "lab"}}}
   ],
   "resolve": {"axis": {"x": "independent", "y": "independent"}}}
 ]}
]
}
